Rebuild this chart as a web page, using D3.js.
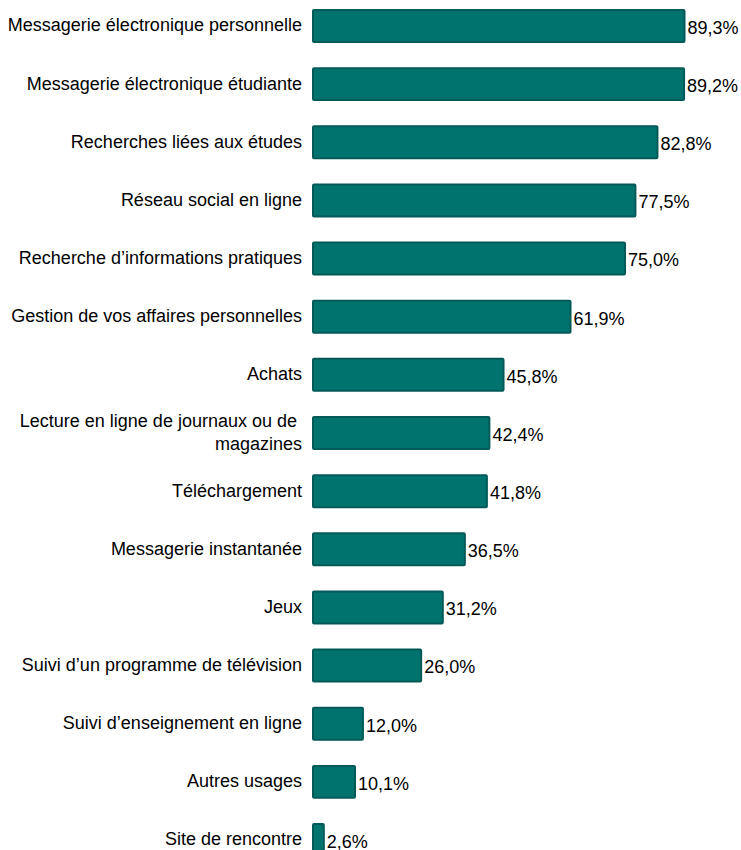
<!DOCTYPE html>
<meta charset="utf-8">
<style>
body { margin: 0; overflow: hidden; background: #fff; }
text { font-family: "Liberation Sans", Arial, sans-serif; fill: #000; }
.bar { fill: #00736f; stroke: #005a57; stroke-width: 2px; }
</style>
<script src="https://d3js.org/d3.v7.min.js"></script>
<div id="chart"></div>
<script>
// categories and values (%)
var categories = [
  "Messagerie électronique personnelle",
  "Messagerie électronique étudiante",
  "Recherches liées aux études",
  "Réseau social en ligne",
  "Recherche d’informations pratiques",
  "Gestion de vos affaires personnelles",
  "Achats",
  "Lecture en ligne de journaux ou de |magazines",
  "Téléchargement",
  "Messagerie instantanée",
  "Jeux",
  "Suivi d’un programme de télévision",
  "Suivi d’enseignement en ligne",
  "Autres usages",
  "Site de rencontre"
];
var values = [89.3, 89.2, 82.8, 77.5, 75.0, 61.9, 45.8, 42.4, 41.8, 36.5, 31.2, 26.0, 12.0, 10.1, 2.6];

var width = 741, height = 850;

var svg = d3.select("#chart")
  .append("svg")
    .attr("width", width)
    .attr("height", height);

var x = d3.scaleLinear()
  .domain([0, 100])
  .range([313, 729]);

var y = d3.scaleBand()
  .domain(categories)
  .range([10, 856])
  .paddingInner(0.45)
  .paddingOuter(0);

var fmt = function(v) { return d3.format(".1f")(v).replace(".", ",") + "%"; };

var rows = svg.selectAll("g.row")
  .data(categories)
  .enter()
  .append("g")
    .attr("class", "row");

// bars
rows.append("rect")
  .attr("class", "bar")
  .attr("x", x(0))
  .attr("y", function(d) { return y(d); })
  .attr("width", function(d, i) { return x(values[i]) - x(0); })
  .attr("height", y.bandwidth())
  .attr("rx", 1);

// category labels (may wrap on "|")
rows.append("text")
  .attr("text-anchor", "end")
  .style("font-size", "18px")
  .each(function(d) {
    var lines = d.split("|");
    var cy = y(d) + y.bandwidth() / 2;
    var t = d3.select(this);
    lines.forEach(function(l, j) {
      t.append("tspan")
        .attr("x", 302)
        .attr("y", cy + (j - (lines.length - 1) / 2) * 23)
        .attr("dy", "0.3em")
        .text(l);
    });
  });

// value labels
rows.append("text")
  .attr("x", function(d, i) { return x(values[i]) + 3; })
  .attr("y", function(d) { return y(d) + y.bandwidth() / 2 + 1.5; })
  .attr("dy", "0.35em")
  .style("font-size", "18px")
  .text(function(d, i) { return fmt(values[i]); });
</script>
